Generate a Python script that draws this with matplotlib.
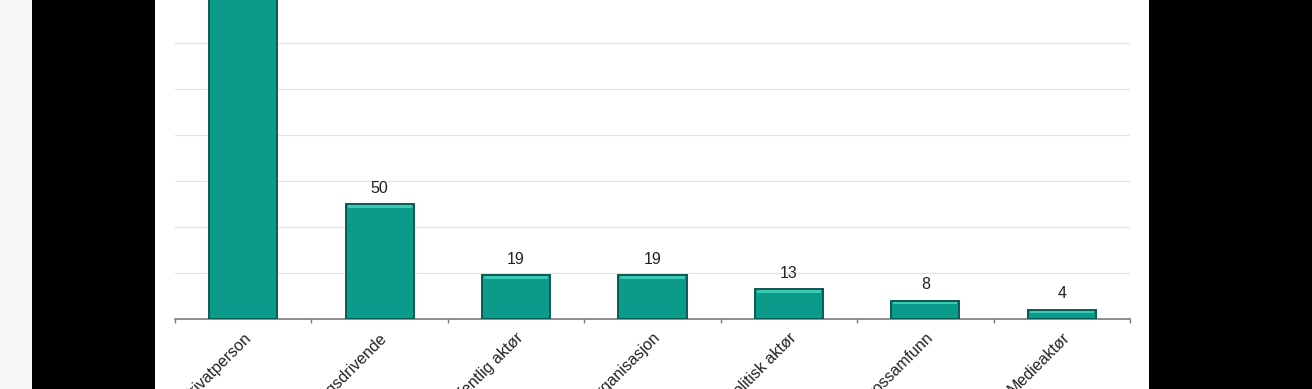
import matplotlib
matplotlib.use('Agg')
import matplotlib.pyplot as plt
from matplotlib.patches import Rectangle

# Data (first bar runs off the top of the frame)
categories = ['Privatperson', 'Næringsdrivende', 'Offentlig aktør', 'Organisasjon',
              'Politisk aktør', 'Trossamfunn', 'Medieaktør']
values = [150, 50, 19, 19, 13, 8, 4]
grid_values = [20, 40, 60, 80, 100, 120]

W, H = 1312, 389
fig = plt.figure(figsize=(W / 100, H / 100), dpi=100)
fig.patch.set_facecolor('white')

# Frame around the slide: light strip at far left, black bars on both sides
fig.patches.append(Rectangle((0, 0), 32 / W, 1, transform=fig.transFigure,
                             facecolor='#f6f6f7', edgecolor='none', zorder=0))
fig.patches.append(Rectangle((32 / W, 0), (155 - 32) / W, 1, transform=fig.transFigure,
                             facecolor='black', edgecolor='none', zorder=0))
fig.patches.append(Rectangle((1149 / W, 0), (W - 1149) / W, 1, transform=fig.transFigure,
                             facecolor='black', edgecolor='none', zorder=0))

ax_left, ax_right, ax_bottom = 175, 1130, 319
ax = fig.add_axes([ax_left / W, (H - ax_bottom) / H, (ax_right - ax_left) / W, ax_bottom / H])
ax.set_facecolor('none')

x = range(len(categories))
bars = ax.bar(x, values, width=0.5, color='#0b9b8b', edgecolor='#0a5a52',
              linewidth=1.4, zorder=3)

# light highlight along the top of each bar
for b in bars:
    ax.bar(b.get_x() + b.get_width() / 2, 1.2, width=b.get_width() * 0.94,
           bottom=b.get_height() - 1.6, color='#3cc9b7', linewidth=0, zorder=4)

for xi, v in zip(x, values):
    ax.annotate(str(v), (xi, v), xytext=(0, 6), textcoords='offset points',
                ha='center', va='bottom', fontsize=11.5, color='#222222',
                family='Liberation Sans')

ax.set_xlim(-0.5, len(categories) - 0.5)
ax.set_ylim(0, ax_bottom / 2.3)
for g in grid_values:
    ax.axhline(g, color='#e3e3e3', linewidth=0.9, zorder=1)

ax.set_yticks([])
ax.set_xticks(list(x))
ax.set_xticklabels(categories, rotation=45, ha='right', va='top',
                   rotation_mode='anchor', fontsize=11.5, color='#222222',
                   family='Liberation Sans')
ax.tick_params(axis='x', which='major', length=0, pad=8)
ax.set_xticks([i - 0.5 for i in range(len(categories) + 1)], minor=True)
ax.tick_params(axis='x', which='minor', length=3, color='#7a7a7a', width=1)

for s in ['top', 'right', 'left']:
    ax.spines[s].set_visible(False)
ax.spines['bottom'].set_color('#7a7a7a')
ax.spines['bottom'].set_linewidth(1.2)

fig.savefig('out.png', dpi=100)
